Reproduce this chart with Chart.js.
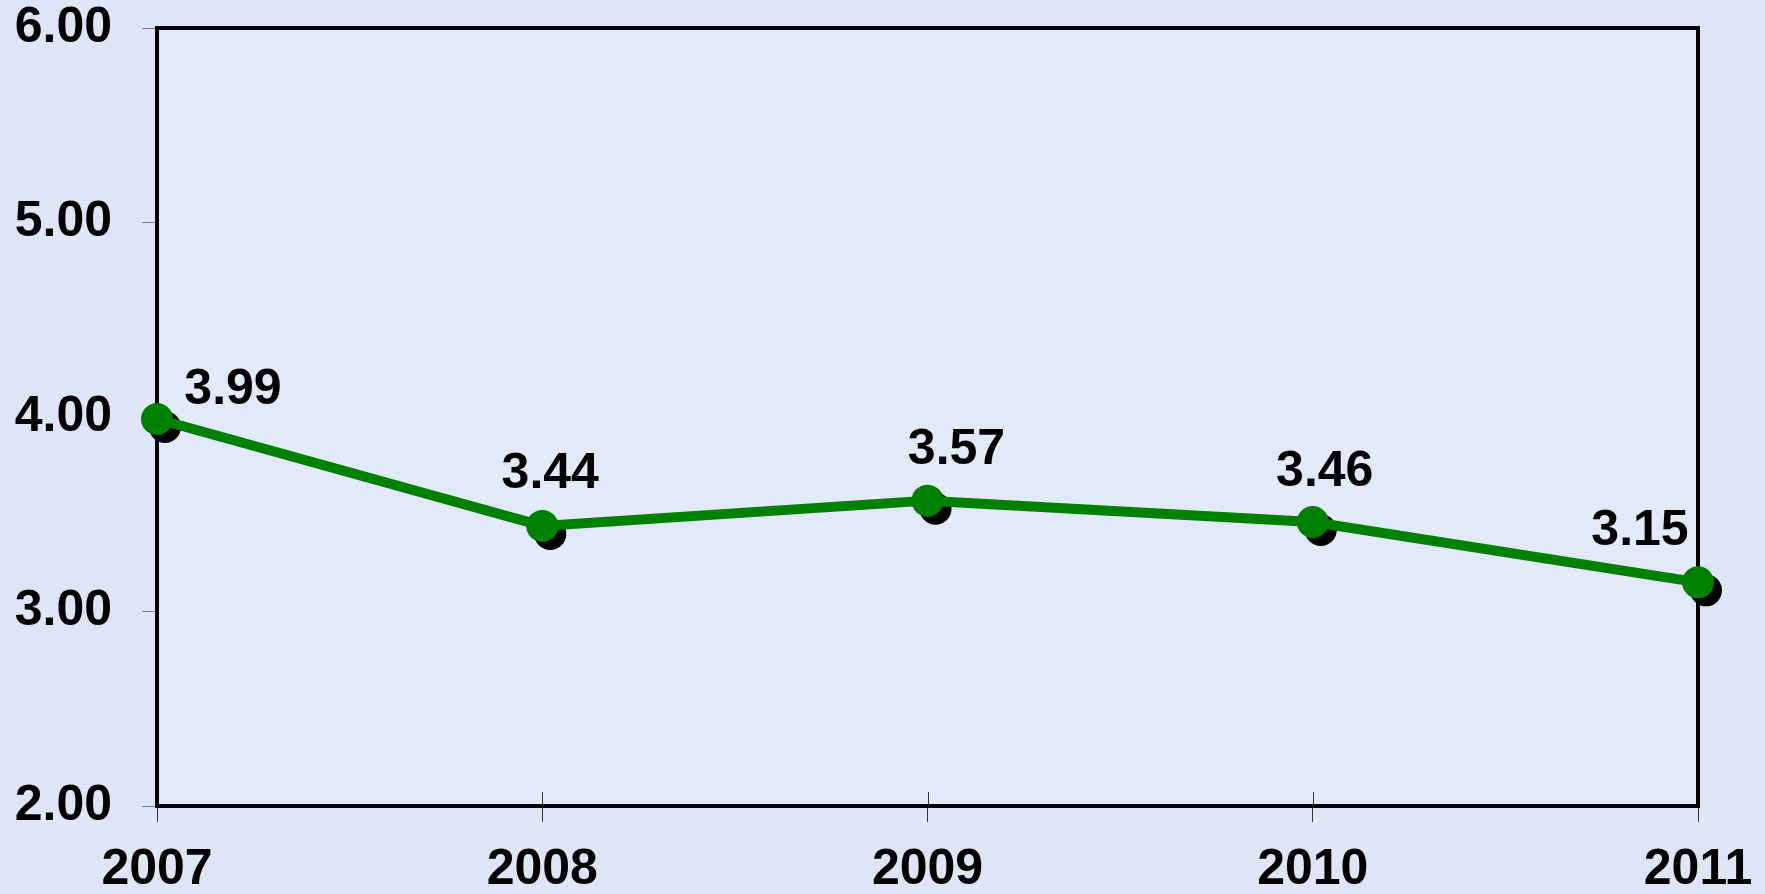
<!DOCTYPE html>
<html>
<head>
  <title>Line chart 2007-2011</title>
  <script src="https://cdn.jsdelivr.net/npm/chart.js"></script>
  <style>
    html, body { margin: 0; padding: 0; background: #dde5f6; }
    #wrap { width: 1765px; height: 894px; position: relative; }
  </style>
</head>
<body>
<div id="wrap"><canvas id="lineChart"></canvas></div>
<script>
  // data
  const years = ['2007', '2008', '2009', '2010', '2011'];
  const values = [3.99, 3.44, 3.57, 3.46, 3.15];
  const yTicks = [2, 3, 4, 5, 6];

  const FONT = { family: "'Liberation Sans', Arial, sans-serif", size: 50, weight: 'bold' };

  // where each value label sits relative to its point (text bottom-centre)
  const labelOffsets = [[76, -15], [8, -38], [29, -37], [12, -36], [-58, -37]];

  const framePlugin = {
    id: 'frame',
    beforeDraw(chart) {
      const c = chart.ctx, a = chart.chartArea;
      c.save();
      c.fillStyle = '#dde5f6';
      c.fillRect(0, 0, chart.width, chart.height);
      c.fillStyle = '#e2e9f9';
      c.fillRect(a.left, a.top, a.right - a.left, a.bottom - a.top);
      c.restore();
    },
    beforeDatasetsDraw(chart) {
      const c = chart.ctx, a = chart.chartArea;
      c.save();
      // small inner tick marks on the category axis
      c.strokeStyle = '#333';
      c.lineWidth = 1;
      const xs = chart.scales.x;
      years.forEach((y, i) => {
        const px = Math.round(xs.getPixelForValue(i)) + 0.5;
        c.beginPath();
        c.moveTo(px, a.bottom - 14);
        c.lineTo(px, a.bottom);
        c.stroke();
      });
      // black frame round the plot
      c.strokeStyle = '#000';
      c.lineWidth = 4;
      c.strokeRect(a.left, a.top, a.right - a.left, a.bottom - a.top);
      // point shadows
      c.fillStyle = '#000';
      chart.getDatasetMeta(0).data.forEach(p => {
        c.beginPath();
        c.arc(p.x + 8, p.y + 8, 16, 0, Math.PI * 2);
        c.fill();
      });
      c.restore();
    },
    afterDatasetsDraw(chart) {
      const c = chart.ctx;
      c.save();
      c.font = 'bold 50px "Liberation Sans", Arial, sans-serif';
      c.fillStyle = '#000';
      c.textAlign = 'center';
      c.textBaseline = 'alphabetic';
      chart.getDatasetMeta(0).data.forEach((p, i) => {
        const o = labelOffsets[i];
        c.fillText(values[i].toFixed(2), p.x + o[0], p.y + o[1]);
      });
      c.restore();
    }
  };

  const ctx = document.getElementById('lineChart').getContext('2d');
  new Chart(ctx, {
    type: 'line',
    data: {
      labels: years,
      datasets: [{
        data: values,
        borderColor: '#008000',
        backgroundColor: '#008000',
        borderWidth: 10,
        tension: 0,
        pointRadius: 16,
        pointBorderWidth: 0,
        pointBackgroundColor: '#008000',
        fill: false
      }]
    },
    options: {
      responsive: true,
      maintainAspectRatio: false,
      animation: false,
      layout: { padding: { left: 0, top: 28, right: 67, bottom: 0 } },
      plugins: { legend: { display: false }, tooltip: { enabled: false } },
      scales: {
        x: {
          offset: false,
          border: { display: false },
          grid: { drawOnChartArea: false, tickLength: 16, color: '#333', tickWidth: 1 },
          ticks: { color: '#000', font: FONT, padding: 18, maxRotation: 0, autoSkip: false },
          afterFit(scale) {
            scale.height = 88;
            scale.paddingLeft = 0;
            scale.paddingRight = 0;
          }
        },
        y: {
          min: 2,
          max: 6,
          border: { display: false },
          grid: { drawOnChartArea: false, tickLength: 15, color: '#808080', tickWidth: 1 },
          afterBuildTicks(scale) { scale.ticks = yTicks.map(v => ({ value: v })); },
          ticks: {
            color: '#000',
            font: Object.assign({ lineHeight: 1 }, FONT),
            padding: 30,
            callback: v => Number(v).toFixed(2)
          },
          afterFit(scale) {
            scale.width = 157;
            scale.paddingTop = 0;
            scale.paddingBottom = 0;
          }
        }
      }
    },
    plugins: [framePlugin]
  });
</script>
</body>
</html>
